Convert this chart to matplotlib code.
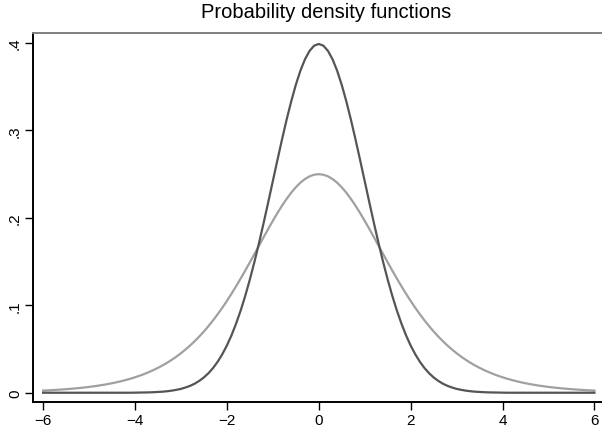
import matplotlib
matplotlib.use("Agg")
import matplotlib.pyplot as plt

plt.rcParams['font.family'] = ['Liberation Sans', 'DejaVu Sans']

x_vals = [-6.0, -5.9, -5.8, -5.7, -5.6, -5.5, -5.4, -5.3, -5.2, -5.1,
          -5.0, -4.9, -4.8, -4.7, -4.6, -4.5, -4.4, -4.3, -4.2, -4.1,
          -4.0, -3.9, -3.8, -3.7, -3.6, -3.5, -3.4, -3.3, -3.2, -3.1,
          -3.0, -2.9, -2.8, -2.7, -2.6, -2.5, -2.4, -2.3, -2.2, -2.1,
          -2.0, -1.9, -1.8, -1.7, -1.6, -1.5, -1.4, -1.3, -1.2, -1.1,
          -1.0, -0.9, -0.8, -0.7, -0.6, -0.5, -0.4, -0.3, -0.2, -0.1,
          0.0,
          0.1, 0.2, 0.3, 0.4, 0.5, 0.6, 0.7, 0.8, 0.9, 1.0,
          1.1, 1.2, 1.3, 1.4, 1.5, 1.6, 1.7, 1.8, 1.9, 2.0,
          2.1, 2.2, 2.3, 2.4, 2.5, 2.6, 2.7, 2.8, 2.9, 3.0,
          3.1, 3.2, 3.3, 3.4, 3.5, 3.6, 3.7, 3.8, 3.9, 4.0,
          4.1, 4.2, 4.3, 4.4, 4.5, 4.6, 4.7, 4.8, 4.9, 5.0,
          5.1, 5.2, 5.3, 5.4, 5.5, 5.6, 5.7, 5.8, 5.9, 6.0]

normal_pdf = [0.0000, 0.0000, 0.0000, 0.0000, 0.0000, 0.0000, 0.0000, 0.0000, 0.0000, 0.0000,
              0.0000, 0.0000, 0.0000, 0.0000, 0.0000, 0.0000, 0.0000, 0.0000, 0.0000, 0.0000,
              0.0001, 0.0002, 0.0003, 0.0004, 0.0006, 0.0009, 0.0012, 0.0017, 0.0024, 0.0033,
              0.0044, 0.0060, 0.0079, 0.0104, 0.0136, 0.0175, 0.0224, 0.0283, 0.0355, 0.0440,
              0.0540, 0.0656, 0.0790, 0.0940, 0.1109, 0.1295, 0.1497, 0.1714, 0.1942, 0.2179,
              0.2420, 0.2661, 0.2897, 0.3123, 0.3332, 0.3521, 0.3683, 0.3814, 0.3910, 0.3970,
              0.3989,
              0.3970, 0.3910, 0.3814, 0.3683, 0.3521, 0.3332, 0.3123, 0.2897, 0.2661, 0.2420,
              0.2179, 0.1942, 0.1714, 0.1497, 0.1295, 0.1109, 0.0940, 0.0790, 0.0656, 0.0540,
              0.0440, 0.0355, 0.0283, 0.0224, 0.0175, 0.0136, 0.0104, 0.0079, 0.0060, 0.0044,
              0.0033, 0.0024, 0.0017, 0.0012, 0.0009, 0.0006, 0.0004, 0.0003, 0.0002, 0.0001,
              0.0000, 0.0000, 0.0000, 0.0000, 0.0000, 0.0000, 0.0000, 0.0000, 0.0000, 0.0000,
              0.0000, 0.0000, 0.0000, 0.0000, 0.0000, 0.0000, 0.0000, 0.0000, 0.0000, 0.0000]

logistic_pdf = [0.00247, 0.00272, 0.00300, 0.00332, 0.00367, 0.00405, 0.00448, 0.00494, 0.00546, 0.00602,
                0.00665, 0.00734, 0.00809, 0.00893, 0.00985, 0.01087, 0.01198, 0.01321, 0.01456, 0.01603,
                0.01767, 0.01946, 0.02140, 0.02355, 0.02589, 0.02845, 0.03126, 0.03430, 0.03764, 0.04125,
                0.04518, 0.04944, 0.05403, 0.05901, 0.06436, 0.07010, 0.07625, 0.08283, 0.08980, 0.09720,
                0.10499, 0.11318, 0.12173, 0.13061, 0.13976, 0.14915, 0.15869, 0.16830, 0.17790, 0.18737,
                0.19661, 0.20550, 0.21391, 0.22171, 0.22878, 0.23500, 0.24026, 0.24446, 0.24752, 0.24938,
                0.25000,
                0.24938, 0.24752, 0.24446, 0.24026, 0.23500, 0.22878, 0.22171, 0.21391, 0.20550, 0.19661,
                0.18737, 0.17790, 0.16830, 0.15869, 0.14915, 0.13976, 0.13061, 0.12173, 0.11318, 0.10499,
                0.09720, 0.08980, 0.08283, 0.07625, 0.07010, 0.06436, 0.05901, 0.05403, 0.04944, 0.04518,
                0.04125, 0.03764, 0.03430, 0.03126, 0.02845, 0.02589, 0.02355, 0.02140, 0.01946, 0.01767,
                0.01603, 0.01456, 0.01321, 0.01198, 0.01087, 0.00985, 0.00893, 0.00809, 0.00734, 0.00665,
                0.00602, 0.00546, 0.00494, 0.00448, 0.00405, 0.00367, 0.00332, 0.00300, 0.00272, 0.00247]

x_ticks = [-6, -4, -2, 0, 2, 4, 6]
x_tick_labels = ['\u22126', '\u22124', '\u22122', '0', '2', '4', '6']
y_ticks = [0, 0.1, 0.2, 0.3, 0.4]
y_tick_labels = ['0', '.1', '.2', '.3', '.4']
title = 'Probability density functions'

fig = plt.figure(figsize=(6.02, 4.27), dpi=100)
ax = fig.add_axes([33/602, 24/427, 569/602, 369.3/427])

ax.plot(x_vals, logistic_pdf, color='#a0a0a0', lw=1.6)
ax.plot(x_vals, normal_pdf, color='#555555', lw=1.6)

ax.set_xlim(-6.22, 6.165)
ax.set_ylim(-0.0106, 0.4118)

ax.set_xticks(x_ticks)
ax.set_xticklabels(x_tick_labels)
ax.set_yticks(y_ticks)
ax.set_yticklabels(y_tick_labels, rotation=90, va='center')
ax.tick_params(axis='both', direction='out', length=6, width=1, labelsize=11, color='black', pad=2)

for s in ['left', 'bottom']:
    ax.spines[s].set_color('black')
    ax.spines[s].set_linewidth(1.4)
ax.spines['top'].set_color('#808080')
ax.spines['top'].set_linewidth(1.4)
ax.spines['right'].set_visible(False)

fig.text(326/602, 1 - 12.5/427, title, ha='center', va='center', fontsize=14.5)

fig.savefig('out.png', dpi=100, facecolor='white')
